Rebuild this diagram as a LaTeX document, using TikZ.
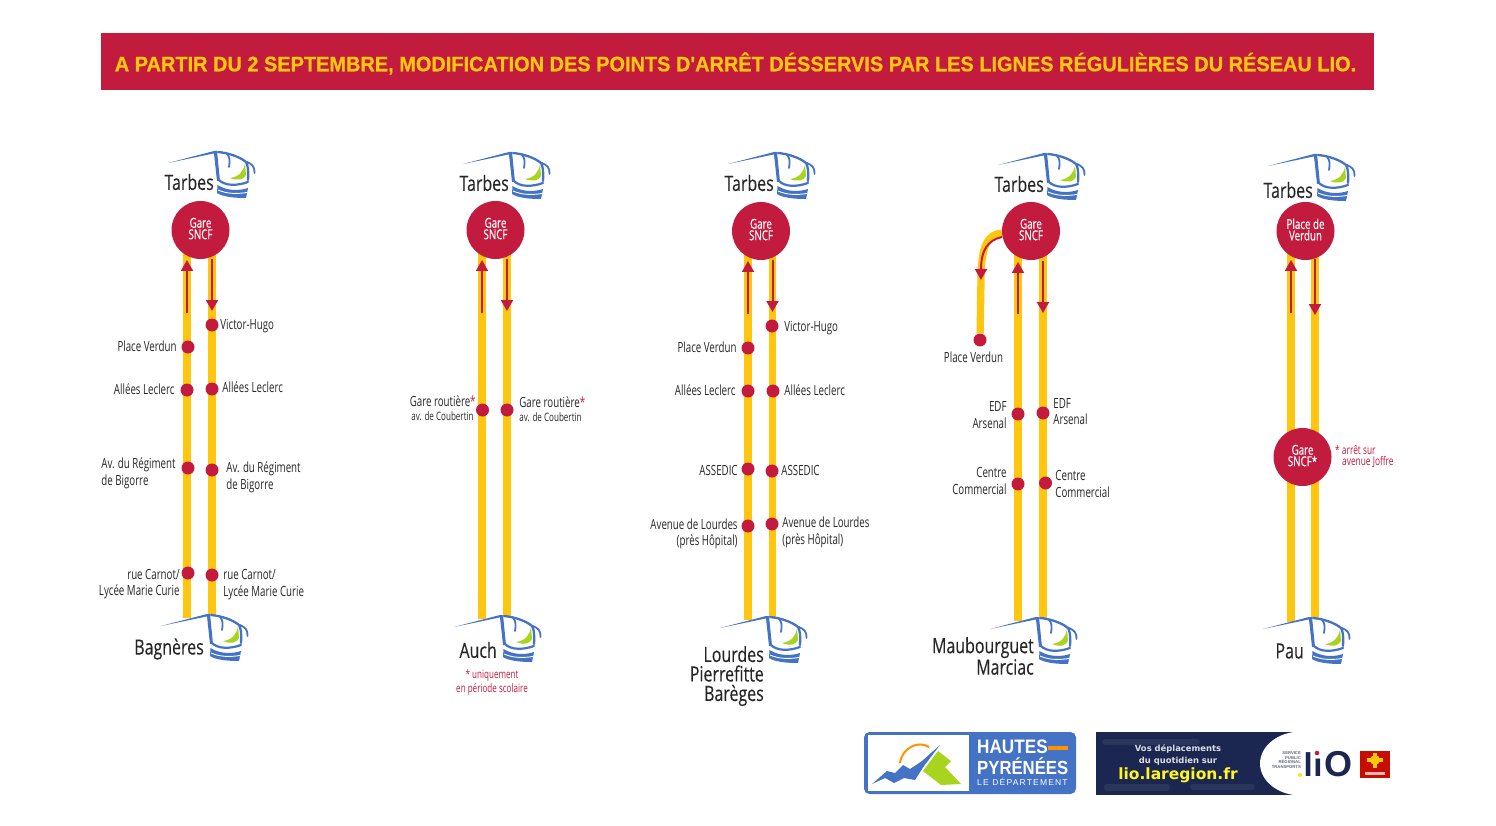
\documentclass[tikz,border=0pt]{standalone}
\usepackage{fontspec}
\usepackage{xcolor}
\usepackage{tikz}
\usetikzlibrary{positioning}
\usetikzlibrary{arrows.meta}
\usetikzlibrary{backgrounds}
\usetikzlibrary{shapes.geometric}
\newfontfamily\condfont[FakeStretch=0.695]{Open Sans}
\newfontfamily\townfont[FakeStretch=0.76,FakeBold=0.2]{Open Sans}
\newfontfamily\hubfont[FakeStretch=0.72,FakeBold=0.2]{Open Sans}
\newfontfamily\titlefont[FakeStretch=0.95,FakeBold=0.7,UprightFont=* Bold]{Liberation Sans}
\newfontfamily\logofont[FakeStretch=0.88]{Liberation Sans}
\newfontfamily\spacedfont[LetterSpace=14]{Liberation Sans}
\newfontfamily\liofont{DejaVu Sans}
\newfontfamily\plainfont{Liberation Sans}
\definecolor{liored}{HTML}{C21B3D}
\definecolor{lioyellow}{HTML}{FFC60F}
\definecolor{busblue}{HTML}{4472C4}
\definecolor{busgreen}{HTML}{A8D31F}
\definecolor{lionavy}{HTML}{1B2750}
\tikzset{
  hub/.style={circle,fill=liored,minimum size=58pt,inner sep=0pt,text=white,align=center,text depth=3pt,font=\hubfont\fontsize{13.6}{11.5}\selectfont},
  stop/.style={circle,fill=liored,minimum size=13pt,inner sep=0pt},
  lab/.style={inner sep=0pt,text=black!85,font=\condfont\fontsize{14}{16.5}\selectfont},
  sublab/.style={inner sep=0pt,text=black!85,font=\condfont\fontsize{11.6}{12}\selectfont},
  town/.style={inner sep=0pt,text=black!85,align=center,font=\townfont\fontsize{21}{19.5}\selectfont},
  note/.style={inner sep=0pt,text=liored,font=\condfont\fontsize{11.6}{14}\selectfont},
  bar/.style={draw=lioyellow,line width=7.3pt},
  run/.style={color=liored,draw,line width=2pt,-{Triangle[length=11pt,width=12pt]}},
  bus/.pic={
    \fill[busblue] (-47,12) -- (-1,0) -- (2,0) -- (5,30) -- (2,30) -- (-1,2.4) -- cycle;
    \draw[busblue,line width=2.3pt,line cap=round] (3,1) .. controls (14,2) and (25,6) .. (31,11) .. controls (33,14) and (33.5,20) .. (33,29);
    \draw[busblue,line width=1.8pt,line cap=round] (12,3) .. controls (15,6) and (15,10) .. (14,16);
    \draw[busblue,line width=1.8pt,line cap=round] (32,11) .. controls (37,13) and (40,16) .. (39.5,22);
    \fill[busgreen] (30,12) .. controls (29,20) and (24,26) .. (15,27) .. controls (22,30) and (29,29) .. (31,24) -- cycle;
    \draw[busblue,line width=2.2pt,line cap=round] (4,29) .. controls (10,35) and (22,35) .. (33,31);
    \fill[busblue] (2.5,34) .. controls (12,40) and (24,40) .. (33,37) -- (31,47) .. controls (20,47) and (8,46) .. (2,42) -- cycle;
    \draw[white,line width=.9pt] (3,39) .. controls (12,43) and (22,43) .. (32,41.5);
  }
}
\begin{document}
\begin{tikzpicture}[x=1pt,y=-1pt]
    \useasboundingbox (0,0) rectangle (1496,826);
    % title
    \node[fill=liored,minimum width=1273pt,minimum height=57pt,inner sep=0pt] (title) at (737.5,61.5) {};
    \node[text=lioyellow,inner sep=0pt,font=\titlefont\fontsize{21}{24}\selectfont] (titletext) at (735.5,63.5) {A PARTIR DU 2 SEPTEMBRE, MODIFICATION DES POINTS D'ARRÊT DÉSSERVIS PAR LES LIGNES RÉGULIÈRES DU RÉSEAU LIO.};
    % line 1
    \node[hub] (hubA) at (200.5,230) {Gare\\SNCF};
    \node[stop] (A1) at (188,347) {};
    \node[stop] (A2) at (187,390) {};
    \node[stop] (A3) at (188,468) {};
    \node[stop] (A4) at (188,573) {};
    \node[stop] (A5) at (212,325) {};
    \node[stop] (A6) at (212,389) {};
    \node[stop] (A7) at (212,470) {};
    \node[stop] (A8) at (212,575) {};
    \node[lab] (A1t) [left=4.5pt of A1,yshift=1pt] {Place Verdun};
    \node[lab] (A2t) [left=5.5pt of A2,yshift=1pt] {Allées Leclerc};
    \node[lab,align=left] (A3t) [left=5.5pt of A3,yshift=-5.5pt] {Av. du Régiment\\de Bigorre};
    \node[lab,align=right] (A4t) [left=1.5pt of A4,yshift=-11pt] {rue Carnot/\\Lycée Marie Curie};
    \node[lab] (A5t) [right=1.5pt of A5,yshift=-1.5pt] {Victor-Hugo};
    \node[lab] (A6t) [right=3.5pt of A6,yshift=2pt] {Allées Leclerc};
    \node[lab,align=left] (A7t) [right=7.5pt of A7,yshift=-7.5pt] {Av. du Régiment\\de Bigorre};
    \node[lab,align=left] (A8t) [right=4.5pt of A8,yshift=-9.5pt] {rue Carnot/\\Lycée Marie Curie};
    \coordinate (Aup0) at (187,230);
    \coordinate (Aup1) at (187,618);
    \coordinate (Adn0) at (212,230);
    \coordinate (Adn1) at (212,615);
    \coordinate (Aa) at (187,313);
    \coordinate (Ab) at (187,260);
    \coordinate (Ac) at (212,259);
    \coordinate (Ad) at (212,311);
    \pic at (215,151) {bus};
    \pic at (208,614) {bus};
    \node[town,anchor=east] (A0) at (214,182) {Tarbes};
    \node[town,anchor=east] (A9) at (204,649) {Bagnères};
    % line 2
    \node[hub] (hubB) at (495.5,230) {Gare\\SNCF};
    \node[stop] (B1) at (482.5,410) {};
    \node[stop] (B2) at (507,410) {};
    \node[lab] (B1t) [left=0pt of B1,yshift=9pt] {Gare routière\textcolor{liored}{*}};
    \node[sublab] (B1s) [below=10pt of B1t.south east,anchor=east,xshift=-2pt] {av. de Coubertin};
    \node[lab] (B2t) [right=5.5pt of B2,yshift=8pt] {Gare routière\textcolor{liored}{*}};
    \node[sublab] (B2s) [below=10pt of B2t.south west,anchor=west] {av. de Coubertin};
    \coordinate (Bup0) at (482,230);
    \coordinate (Bup1) at (482,619);
    \coordinate (Bdn0) at (507,230);
    \coordinate (Bdn1) at (507,616);
    \coordinate (Ba) at (482,313);
    \coordinate (Bb) at (482,260);
    \coordinate (Bc) at (507,259);
    \coordinate (Bd) at (507,311);
    \pic at (510,152) {bus};
    \pic at (501,615) {bus};
    \node[town,anchor=east] (B0) at (509,183) {Tarbes};
    \node[town,anchor=east] (B9) at (497,650) {Auch};
    \node[note,align=center] (B9n) at (492,682) {* uniquement\\en période scolaire};
    % line 3
    \node[hub] (hubC) at (761,231) {Gare\\SNCF};
    \node[stop] (C1) at (748,348) {};
    \node[stop] (C2) at (748,391) {};
    \node[stop] (C3) at (748,469) {};
    \node[stop] (C4) at (748,526) {};
    \node[stop] (C5) at (772,326) {};
    \node[stop] (C6) at (773,391) {};
    \node[stop] (C7) at (772,471) {};
    \node[stop] (C8) at (772,524) {};
    \node[lab] (C1t) [left=4.5pt of C1,yshift=1pt] {Place Verdun};
    \node[lab] (C2t) [left=5.5pt of C2,yshift=1pt] {Allées Leclerc};
    \node[lab] (C3t) [left=3.5pt of C3,yshift=-1pt] {ASSEDIC};
    \node[lab,align=right] (C4t) [left=3.5pt of C4,yshift=-8pt] {Avenue de Lourdes\\(près Hôpital)};
    \node[lab] (C5t) [right=5.5pt of C5,yshift=-2pt] {Victor-Hugo};
    \node[lab] (C6t) [right=4.5pt of C6,yshift=1pt] {Allées Leclerc};
    \node[lab] (C7t) [right=2.5pt of C7,yshift=1pt] {ASSEDIC};
    \node[lab,align=left] (C8t) [right=3.5pt of C8,yshift=-8.5pt] {Avenue de Lourdes\\(près Hôpital)};
    \coordinate (Cup0) at (748,230);
    \coordinate (Cup1) at (748,620);
    \coordinate (Cdn0) at (772.5,230);
    \coordinate (Cdn1) at (772.5,617);
    \coordinate (Ca) at (748,314);
    \coordinate (Cb) at (748,261);
    \coordinate (Cc) at (772.5,260);
    \coordinate (Cd) at (772.5,312);
    \pic at (775,152) {bus};
    \pic at (767,616) {bus};
    \node[town,anchor=east] (C0) at (774,183) {Tarbes};
    \node[town,align=right,anchor=east] (C9) at (764,676) {Lourdes\\Pierrefitte\\Barèges};
    % line 4
    \node[hub] (hubD) at (1031,231) {Gare\\SNCF};
    \node[stop] (D0) at (980,340) {};
    \node[stop] (D1) at (1018,414) {};
    \node[stop] (D2) at (1018,484) {};
    \node[stop] (D3) at (1043,413) {};
    \node[stop] (D4) at (1045.5,483) {};
    \node[lab] (D0t) [below=4.5pt of D0,xshift=-6.5pt] {Place Verdun};
    \node[lab,align=right] (D1t) [left=4.5pt of D1,yshift=-1pt] {EDF\\Arsenal};
    \node[lab,align=right] (D2t) [left=4.5pt of D2,yshift=3pt] {Centre\\Commercial};
    \node[lab,align=left] (D3t) [right=3.5pt of D3,yshift=1.5pt] {EDF\\Arsenal};
    \node[lab,align=left] (D4t) [right=3pt of D4,yshift=-1pt] {Centre\\Commercial};
    \coordinate (Dup0) at (1018,230);
    \coordinate (Dup1) at (1018,621);
    \coordinate (Ddn0) at (1043,230);
    \coordinate (Ddn1) at (1043,618);
    \coordinate (Da) at (1018,314);
    \coordinate (Db) at (1018,262);
    \coordinate (Dc) at (1043,261);
    \coordinate (Dd) at (1043,313);
    \coordinate (De) at (1002,237);
    \coordinate (Df) at (981,280);
    \pic at (1045,153) {bus};
    \pic at (1037,617) {bus};
    \node[town,anchor=east] (D8) at (1044,184) {Tarbes};
    \node[town,align=right,anchor=east] (D9) at (1034,656) {Maubourguet\\Marciac};
    % line 5
    \node[hub] (hubE) at (1305.5,231) {Place de\\Verdun};
    \node[hub] (hubF) at (1302.5,457) {Gare\\SNCF*};
    \node[note,anchor=north west,align=left,font=\condfont\fontsize{12}{9}\selectfont] (E1n) at (1335,445.5) {* arrêt sur\\\hspace*{7pt}avenue Joffre};
    \coordinate (Eup0) at (1291,230);
    \coordinate (Eup1) at (1291,622);
    \coordinate (Edn0) at (1315,230);
    \coordinate (Edn1) at (1315,618);
    \coordinate (Ea) at (1291,313);
    \coordinate (Eb) at (1291,260);
    \coordinate (Ec) at (1315,259);
    \coordinate (Ed) at (1315,315);
    \pic at (1315,154) {bus};
    \pic at (1310,617) {bus};
    \node[town,anchor=east] (E0) at (1313,190) {Tarbes};
    \node[town,anchor=east] (E9) at (1304,651) {Pau};
    % yellow lines go under everything
    \begin{scope}[on background layer]
    \path[bar]
    (Aup0) edge (Aup1)
    (Adn0) edge (Adn1)
    (Bup0) edge (Bup1)
    (Bdn0) edge (Bdn1)
    (Cup0) edge (Cup1)
    (Cdn0) edge (Cdn1)
    (Dup0) edge (Dup1)
    (Ddn0) edge (Ddn1)
    (Eup0) edge (Eup1)
    (Edn0) edge (Edn1);
    \draw[bar] (hubD) .. controls (988,234) and (981,245) .. (981,280) -- (D0);
    \end{scope}
    \path[every edge/.style={run}]
    (Aa) edge (Ab)
    (Ac) edge (Ad)
    (Ba) edge (Bb)
    (Bc) edge (Bd)
    (Ca) edge (Cb)
    (Cc) edge (Cd)
    (Da) edge (Db)
    (Dc) edge (Dd)
    (Ea) edge (Eb)
    (Ec) edge (Ed);
    \draw[run] (De) .. controls (988,240) and (981,250) .. (Df);
    % departement logo
    \node[draw=busblue,fill=busblue,rounded corners=5pt,minimum width=211pt,minimum height=61pt,inner sep=0pt,line width=1pt] (hpbox) at (970,763) {};
    \fill[white] (867.5,735) rectangle (969,791);
    \draw[orange!85!yellow,line width=2pt] (900,763) .. controls (902,748) and (918,740) .. (929,747);
    \fill[busgreen] (938,751) -- (951,761) -- (945,767) -- (961,784) -- (941,785) -- (923,771) -- cycle;
    \fill[busblue] (872,784) -- (887,771) -- (895,773) -- (903,765) -- (910,769) -- (922,761) -- (940,745) -- (924,766) -- (915,780) -- (904,778) -- (894,783) -- (885,778) -- cycle;
    \node[inner sep=0pt,anchor=west,text=white,font=\logofont\bfseries\fontsize{19.5}{20}\selectfont] (hp1) at (977,747) {HAUTES};
    \node[inner sep=0pt,anchor=west,text=white,font=\logofont\bfseries\fontsize{19}{20}\selectfont] (hp2) at (977,766) {PYRÉNÉES};
    \node[inner sep=0pt,anchor=west,text=white,font=\spacedfont\fontsize{8.5}{9}\selectfont] (hp3) at (977,782) {LE DÉPARTEMENT};
    \fill[orange!85!yellow] (1048,746) rectangle (1068,750);
    % lio banner
    \fill[lionavy] (1096,732) rectangle (1296,795);
    \fill[lionavy!80!white,opacity=.35,rounded corners=3pt] (1102,739) rectangle (1200,745);
    \fill[lionavy!80!white,opacity=.35,rounded corners=3pt] (1104,784) rectangle (1170,791);
    \fill[lionavy!80!white,opacity=.35,rounded corners=3pt] (1190,784) rectangle (1255,790);
    \fill[white] (1301,763.5) ellipse [x radius=41pt,y radius=32pt];
    \node[inner sep=0pt,align=center,text=white!85!lionavy,font=\liofont\bfseries\fontsize{8.4}{12}\selectfont] (lio1) at (1178,755) {Vos déplacements\\du quotidien sur};
    \node[inner sep=0pt,text=yellow!85!white,font=\liofont\bfseries\fontsize{15.5}{15}\selectfont] (lio2) at (1178,775) {lio.laregion.fr};
    \node[inner sep=0pt,align=right,anchor=east,text=lionavy!70,font=\plainfont\bfseries\fontsize{4.2}{4.4}\selectfont] (lio3) at (1301,760) {SERVICE\\PUBLIC\\RÉGIONAL\\TRANSPORTS};
    \node[inner sep=0pt,anchor=base west,text=lionavy,font=\plainfont\bfseries\fontsize{33}{33}\selectfont] (lio4) at (1303.5,776) {l\kern.5pt ı};
    \node[inner sep=0pt,anchor=base,text=lionavy,font=\plainfont\bfseries\fontsize{36}{36}\selectfont] (lio5) at (1338,776.5) {O};
    \fill[yellow!90!orange] (1300,775) circle (2pt);
    \fill[liored] (1317,753) circle (2.3pt);
    \fill[red!75!black!90!orange] (1360,751) rectangle (1390,778);
    \fill[lioyellow] (1375,760) circle (5pt);
    \fill[lioyellow] (1367,758) rectangle (1383,762);
    \fill[lioyellow] (1373,753) rectangle (1377,768);
    \fill[white,opacity=.7] (1365,772) rectangle (1385,775);
\end{tikzpicture}
\end{document}
